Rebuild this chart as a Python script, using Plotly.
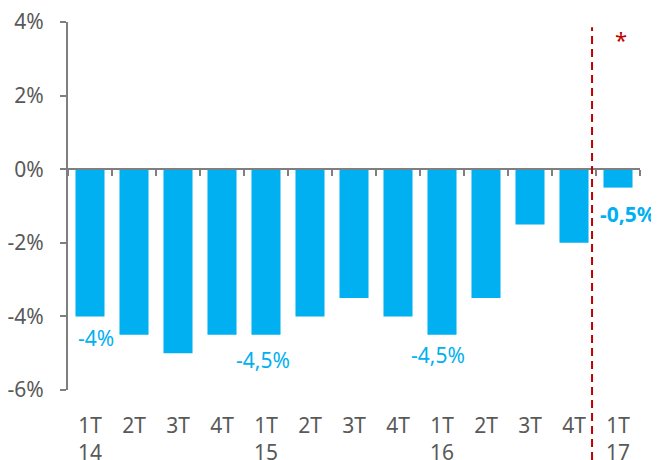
import plotly.graph_objects as go

quarters = ["1T<br>14", "2T", "3T", "4T", "1T<br>15", "2T", "3T", "4T",
            "1T<br>16", "2T", "3T", "4T", "1T<br>17"]
values = [-4.0, -4.5, -5.0, -4.5, -4.5, -4.0, -3.5, -4.0, -4.5, -3.5, -1.5, -2.0, -0.5]
label_idx = [0, 4, 8, 12]
label_text = ["-4%", "-4,5%", "-4,5%", "-0,5%"]
ytick_vals = [-6, -4, -2, 0, 2, 4]
ytick_text = ["-6%", "-4%", "-2%", "0%", "2%", "4%"]

BLUE = "#00B0F0"
GRAY = "#7F7F7F"
TXT = "#595959"
RED = "#C00000"
FONT = "Noto Sans"

xs = list(range(len(values)))

fig = go.Figure()
fig.add_trace(go.Bar(x=xs, y=values, marker=dict(color=BLUE, line=dict(width=0)),
                     width=0.66, hoverinfo="skip", showlegend=False))
# invisible trace for the zero-line axis with boundary ticks
fig.add_trace(go.Scatter(x=xs, y=values, xaxis="x2", mode="markers",
                         marker=dict(opacity=0), showlegend=False, hoverinfo="skip"))

# page body has an 8px margin; compensate so the plot sits where the reference has it
fig.update_layout(
    width=651, height=452,
    margin=dict(l=60, r=19, t=14, b=70, autoexpand=False),
    paper_bgcolor="white", plot_bgcolor="white",
    font=dict(family=FONT, size=21, color=TXT),
    xaxis=dict(range=[-0.5, len(values) - 0.5], tickvals=xs, ticktext=quarters,
               showline=False, ticks="", showgrid=False, zeroline=False,
               tickfont=dict(family=FONT, size=21, color=TXT),
               ticklabelstandoff=21, automargin=False, ticklabeloverflow="allow"),
    xaxis2=dict(overlaying="x", matches="x", anchor="free", position=0.6,
                showline=True, linecolor=GRAY, linewidth=2,
                ticks="outside", ticklen=6, tickwidth=2, tickcolor=GRAY,
                tickvals=[i - 0.5 for i in range(len(values) + 1)],
                showticklabels=False, showgrid=False, zeroline=False,
                automargin=False),
    yaxis=dict(range=[-6, 4], tickvals=ytick_vals, ticktext=ytick_text,
               showline=True, linecolor=GRAY, linewidth=2,
               ticks="outside", ticklen=6, tickwidth=2, tickcolor=GRAY,
               showgrid=False, zeroline=False,
               tickfont=dict(family=FONT, size=21, color=TXT),
               ticklabelstandoff=12, automargin=False, ticklabeloverflow="allow"),
    bargap=0.34,
)

shifts = [(6, -22), (-3, -25), (-4, -20), (10, -26)]
for k, (i, t) in enumerate(zip(label_idx, label_text)):
    fig.add_annotation(x=xs[i], y=values[i], text=t, showarrow=False,
                       xshift=shifts[k][0], yshift=shifts[k][1],
                       font=dict(family=FONT, size=21, color=BLUE,
                                 weight="bold" if i == 12 else "normal"))

fig.add_shape(type="line", xref="x", yref="paper", x0=11.41, x1=11.41,
              y0=-0.19, y1=0.986, line=dict(color=RED, width=2, dash="8px,5px"))
fig.add_annotation(x=12.07, y=3.55, text="*", showarrow=False,
                   font=dict(family=FONT, size=22, color=RED))

fig.write_html("out.html")
